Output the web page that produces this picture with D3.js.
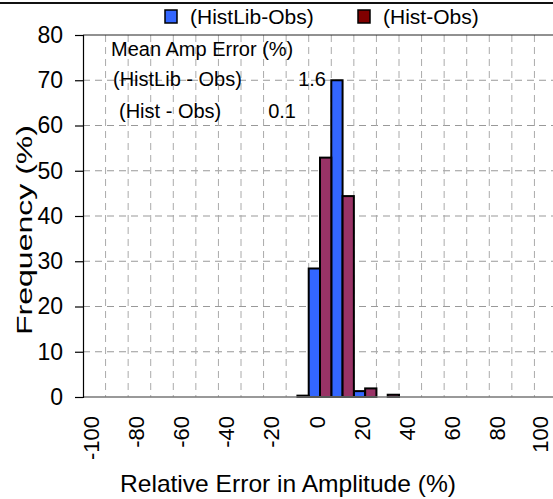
<!DOCTYPE html>
<html><head><meta charset="utf-8">
<script src="https://cdn.jsdelivr.net/npm/d3@7"></script>
<style>
html,body{margin:0;padding:0;background:#fff;}
svg{display:block;font-family:"Liberation Sans",Arial,sans-serif;}
</style></head>
<body><svg id="c" width="553" height="499"></svg>
<script>
const categories = [-100,-90,-80,-70,-60,-50,-40,-30,-20,-10,0,10,20,30,40,50,60,70,80,90,100];
const histLibObs = [0,0,0,0,0,0,0,0,0,0,28.4,70.0,1.3,0,0,0,0,0,0,0,0];
const histObs    = [0,0,0,0,0,0,0,0,0,0.3,52.9,44.4,1.9,0.5,0,0,0,0,0,0,0];
const xTickLabels = [-100,-80,-60,-40,-20,0,20,40,60,80,100];
const yTicks = [0,10,20,30,40,50,60,70,80];
const seriesNames = ["(HistLib-Obs)","(Hist-Obs)"];
const annotations = [
  {label:"Mean Amp Error (%)", value:""},
  {label:"(HistLib - Obs)", value:"1.6"},
  {label:"(Hist - Obs)", value:"0.1"}
];

const svg = d3.select("#c");
const W = 553, L = 83, R = 557, T = 35, B = 397;

const x = d3.scaleBand().domain(categories).range([L, R]).padding(0);
const xs = d3.scaleBand().domain([0,1]).range([0, x.bandwidth()]).padding(0);
const y = d3.scaleLinear().domain([0, 80]).range([B, T]);

svg.append("rect").attr("width",W).attr("height",499).attr("fill","#fff");
// top frame line
svg.append("line").attr("x1",0).attr("x2",W).attr("y1",3).attr("y2",3)
  .attr("stroke","#111").attr("stroke-width",2);

// gridlines
const g = svg.append("g");
g.selectAll(".hg").data(yTicks.filter(t => t > 0 && t < 80)).join("line")
  .attr("x1", L).attr("x2", R).attr("y1", d => y(d)).attr("y2", d => y(d))
  .attr("stroke","#999").attr("stroke-width",1).attr("stroke-dasharray","7,5");
g.selectAll(".vg").data(categories.slice(1)).join("line")
  .attr("x1", d => x(d)).attr("x2", d => x(d)).attr("y1", T).attr("y2", B)
  .attr("stroke","#aaa").attr("stroke-width",1).attr("stroke-dasharray","7,5");

// plot top border
svg.append("line").attr("x1",L).attr("x2",R).attr("y1",T).attr("y2",T).attr("stroke","#222").attr("stroke-width",1);

// bars
const series = [
  {vals: histLibObs, color: "#3366FF"},
  {vals: histObs, color: "#993366"}
];
series.forEach((s, si) => {
  svg.append("g").selectAll("rect")
    .data(categories.map((c, i) => ({c, v: s.vals[i]})).filter(d => d.v > 0))
    .join("rect")
    .attr("x", d => x(d.c) + xs(si))
    .attr("width", xs.bandwidth())
    .attr("y", d => y(d.v))
    .attr("height", d => y(0) - y(d.v))
    .attr("fill", s.color).attr("stroke","#000").attr("stroke-width",2);
});

// x axis line
svg.append("line").attr("x1",L).attr("x2",R).attr("y1",B).attr("y2",B).attr("stroke","#777").attr("stroke-width",1.5);

// y axis
const yAxis = d3.axisLeft(y).tickValues(yTicks).tickSize(8).tickPadding(12);
const ya = svg.append("g").attr("transform",`translate(${L},0)`).call(yAxis);
ya.select(".domain").attr("stroke","#000").attr("stroke-width",1.2);
ya.selectAll(".tick line").attr("stroke","#000").attr("stroke-width",1.2);
ya.selectAll(".tick text").attr("font-size",23).attr("fill","#000")
  .attr("font-family","'Liberation Sans',Arial,sans-serif");

// x tick labels (rotated)
const xfs = 22;
svg.append("g").selectAll("text").data(xTickLabels).join("text")
  .attr("transform", d => {
    const cx = Math.min(x(d) + x.bandwidth()/2 - 2, W - 0.52 * xfs);
    return `translate(${cx},416) rotate(-90)`;
  })
  .attr("text-anchor","end").attr("dy","0.3em")
  .attr("font-size",xfs).attr("fill","#000").text(d => d);

// axis titles
svg.append("text").attr("x", 288).attr("y", 492).attr("text-anchor","middle")
  .attr("font-size",24).attr("fill","#000")
  .attr("textLength",336).attr("lengthAdjust","spacingAndGlyphs")
  .text("Relative Error in Amplitude (%)");
svg.append("text").attr("transform","translate(32,230) rotate(-90)").attr("text-anchor","middle")
  .attr("font-size",22).attr("fill","#000")
  .attr("textLength",210).attr("lengthAdjust","spacingAndGlyphs")
  .text("Frequency (%)");

// annotations
svg.append("text").attr("x",111).attr("y",56).attr("font-size",20).text(annotations[0].label);
svg.append("text").attr("x",113).attr("y",86).attr("font-size",20).text(annotations[1].label);
svg.append("text").attr("x",326).attr("y",86).attr("text-anchor","end").attr("font-size",20).text(annotations[1].value);
svg.append("text").attr("x",119).attr("y",118).attr("font-size",20).text(annotations[2].label);
svg.append("text").attr("x",296).attr("y",118).attr("text-anchor","end").attr("font-size",20).text(annotations[2].value);

// legend
const legendColors = ["#3366FF","#800000"];
const legendX = [165, 358];
const lg = svg.append("g");
seriesNames.forEach((n, i) => {
  lg.append("rect").attr("x", legendX[i]).attr("y", 10).attr("width", 12).attr("height", 13)
    .attr("fill", legendColors[i]).attr("stroke","#000").attr("stroke-width",1.5);
  lg.append("text").attr("x", legendX[i] + 25).attr("y", 24).attr("font-size",21).text(n);
});
</script></body></html>
